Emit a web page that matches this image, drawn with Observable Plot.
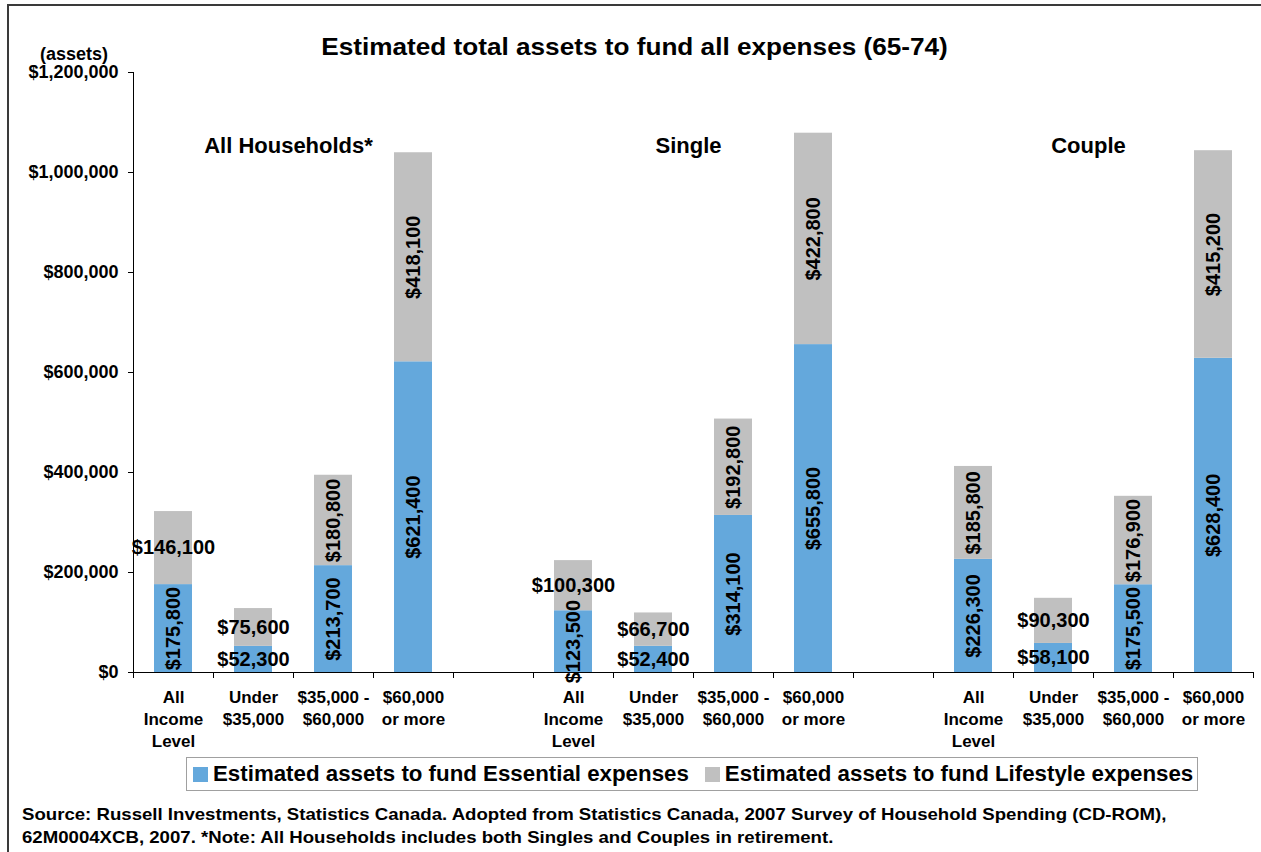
<!DOCTYPE html>
<html>
<head>
<meta charset="utf-8">
<script src="https://cdn.jsdelivr.net/npm/d3@7"></script>
<script src="https://cdn.jsdelivr.net/npm/@observablehq/plot@0.6"></script>
<style>
  body { margin: 0; background: #fff; }
  #root { position: relative; width: 1261px; height: 852px; overflow: hidden; background: #fff;
          font-family: "Liberation Sans", Arial, sans-serif; font-weight: bold; color: #000; }
  #border { position: absolute; left: 7px; top: 4px; width: 1400px; height: 1000px; border: 2px solid #3a3a3a; }
  #chart { position: absolute; left: 0; top: 0; }
  #title { position: absolute; left: 8px; width: 1253px; top: 34px; text-align: center; font-size: 24px; line-height: 26px;
           transform: scaleX(1.09); transform-origin: 626px 0; }
  #ylabel { position: absolute; left: 40px; top: 45px; font-size: 18px; line-height: 18px; }
  #legend { position: absolute; left: 186px; top: 757px; width: 1010px; height: 32px; border: 1px solid #a0a0a0;
            display: flex; align-items: center; font-size: 22.3px; white-space: nowrap; }
  #legend .sw { display: inline-block; width: 15px; height: 15px; margin-right: 5px; }
  #legend .item { display: flex; align-items: center; }
  #source { position: absolute; left: 22px; top: 803px; font-size: 17px; line-height: 23px;
            transform: scaleX(1.095); transform-origin: 0 0; white-space: nowrap; }
</style>
</head>
<body>
<div id="root">
  <div id="border"></div>
  <div id="chart"></div>
  <div id="title"></div>
  <div id="ylabel"></div>
  <div id="legend"></div>
  <div id="source"></div>
</div>
<script>
// ---- data ----
const title = "Estimated total assets to fund all expenses (65-74)";
const yAxisLabel = "(assets)";
const groups = ["All Households*", "Single", "Couple"];
const incomeLabels = ["All\nIncome\nLevel", "Under\n$35,000", "$35,000 -\n$60,000", "$60,000\nor more"];
const seriesNames = ["Estimated assets to fund Essential expenses", "Estimated assets to fund Lifestyle expenses"];
const seriesColors = ["#64A8DC", "#C0C0C0"];
// order: group x income
const essential = [175800, 52300, 213700, 621400, 123500, 52400, 314100, 655800, 226300, 58100, 175500, 628400];
const lifestyle = [146100, 75600, 180800, 418100, 100300, 66700, 192800, 422800, 185800, 90300, 176900, 415200];
const yTicks = [0, 200000, 400000, 600000, 800000, 1000000, 1200000];
const groupLabelValue = 1054000;
const sourceLines = [
  "Source: Russell Investments, Statistics Canada. Adopted from Statistics Canada, 2007 Survey of Household Spending (CD-ROM),",
  "62M0004XCB, 2007. *Note: All Households includes both Singles and Couples in retirement."
];

// ---- build ----
const slots = [];
const slotLabel = new Map();
groups.forEach((g, gi) => {
  incomeLabels.forEach((lab, ii) => {
    const k = `${gi}-${ii}`;
    slots.push(k);
    slotLabel.set(k, lab);
  });
  if (gi < groups.length - 1) slots.push(`gap${gi}`);
});

const rows = [];
groups.forEach((g, gi) => {
  incomeLabels.forEach((lab, ii) => {
    const idx = gi * incomeLabels.length + ii;
    rows.push({slot: `${gi}-${ii}`, series: seriesNames[0], s: 0, value: essential[idx]});
    rows.push({slot: `${gi}-${ii}`, series: seriesNames[1], s: 1, value: lifestyle[idx]});
  });
});

const groupRows = groups.map((g, gi) => ({name: g, slot: `${gi}-1`}));

const W = 1261, H = 760;
const mL = 133, mR = 8, mT = 72, mB = 88;
const step = (W - mL - mR) / slots.length;
const fmt = v => "$" + d3.format(",")(v);
const vertical = d => d.s === 0 ? d.value >= 100000 : d.value >= 150000;

const chart = Plot.plot({
  width: W, height: H,
  marginLeft: mL, marginRight: mR, marginTop: mT, marginBottom: mB,
  style: {fontFamily: '"Liberation Sans", Arial, sans-serif', fontWeight: "bold", color: "#000", background: "transparent", overflow: "visible"},
  x: {domain: slots, paddingInner: 0.525, paddingOuter: 0.2625, label: null},
  y: {domain: [0, 1200000], label: null},
  color: {domain: seriesNames, range: seriesColors},
  marks: [
    Plot.barY(rows, {x: "slot", y: "value", fill: "series"}),
    Plot.text(rows, Plot.stackY({x: "slot", y: "value", text: d => fmt(d.value),
      rotate: d => vertical(d) ? -90 : 0, fontSize: 20, fontWeight: "bold", fill: "#000"})),
    Plot.text(groupRows, {x: "slot", y: () => groupLabelValue, text: "name", dx: step / 2 - 5,
      fontSize: 22, fontWeight: "bold", fill: "#000"}),
    Plot.ruleY([0], {stroke: "#000", strokeWidth: 1}),
    Plot.ruleX([slots[0]], {y1: 0, y2: 1200000, dx: -step / 2, stroke: "#000", strokeWidth: 1}),
    Plot.ruleX(slots, {y1: 0, y2: -12000, dx: -step / 2, stroke: "#000"}),
    Plot.ruleX([slots[slots.length - 1]], {y1: 0, y2: -12000, dx: step / 2, stroke: "#000"}),
    Plot.axisY({ticks: yTicks, tickSize: 5, tickPadding: 10, tickFormat: fmt, fontSize: 18, label: null, stroke: "#000"}),
    Plot.axisX({tickSize: 0, tickPadding: 15, tickFormat: k => slotLabel.get(k) || "", fontSize: 17, lineHeight: 1.3, label: null})
  ]
});
document.getElementById("chart").appendChild(chart);

document.getElementById("title").textContent = title;
document.getElementById("ylabel").textContent = yAxisLabel;
const legend = document.getElementById("legend");
seriesNames.forEach((n, i) => {
  const it = document.createElement("div");
  it.className = "item";
  it.style.marginLeft = i === 0 ? "6px" : "16px";
  const sw = document.createElement("span");
  sw.className = "sw";
  sw.style.background = seriesColors[i];
  const t = document.createElement("span");
  t.textContent = n;
  it.appendChild(sw); it.appendChild(t);
  legend.appendChild(it);
});
const src = document.getElementById("source");
sourceLines.forEach(l => { const d = document.createElement("div"); d.textContent = l; src.appendChild(d); });
</script>
</body>
</html>
